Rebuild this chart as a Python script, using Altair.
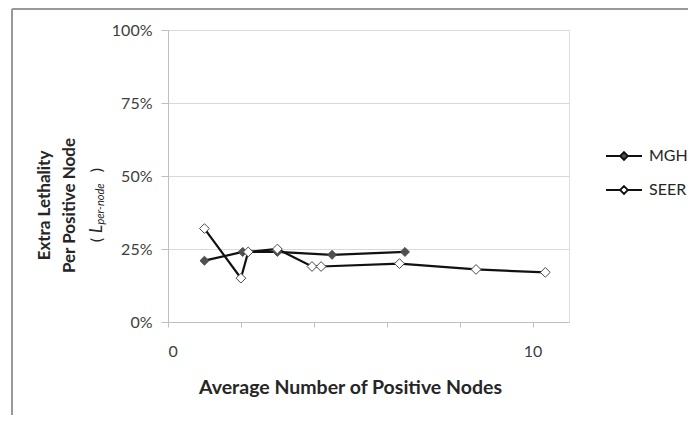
import altair as alt
import pandas as pd

# ---- data ----
mgh_x = [1.0, 2.05, 3.0, 4.5, 6.5]
mgh_y = [0.21, 0.24, 0.24, 0.23, 0.24]
seer_x = [1.0, 2.0, 2.2, 3.0, 3.95, 4.2, 6.35, 8.45, 10.35]
seer_y = [0.32, 0.15, 0.24, 0.25, 0.19, 0.19, 0.20, 0.18, 0.17]
series_names = ["MGH", "SEER"]
x_ticks = list(range(0, 12))
y_ticks = [0, 0.25, 0.5, 0.75, 1.0]

rows = []
for i, (x, y) in enumerate(zip(mgh_x, mgh_y)):
    rows.append({"series": "MGH", "x": x, "y": y, "i": i})
for i, (x, y) in enumerate(zip(seer_x, seer_y)):
    rows.append({"series": "SEER", "x": x, "y": y, "i": i})
df = pd.DataFrame(rows)
one = pd.DataFrame({"k": [0]})

FONT = "Lato"
W, H = 401, 292

xenc = alt.X("x:Q", scale=alt.Scale(domain=[0, 11], nice=False),
             axis=alt.Axis(values=x_ticks, grid=False,
                           labelExpr="datum.value % 5 === 0 ? datum.label : ''",
                           title="Average Number of Positive Nodes",
                           titleX=182, titleY=65,
                           titleAlign="center", titleBaseline="middle",
                           titleFontSize=19.5, titleFontWeight="bold",
                           titleColor="#262626",
                           tickSize=5, labelPadding=16, labelFontSize=16,
                           labelColor="#404040", domainColor="#bfbfbf",
                           tickColor="#bfbfbf", labelFont=FONT, titleFont=FONT))
yenc = alt.Y("y:Q", scale=alt.Scale(domain=[0, 1], nice=False),
             axis=alt.Axis(values=y_ticks, format=".0%", grid=True,
                           gridColor="#d9d9d9", gridWidth=1.2,
                           title=["Extra  Lethality", "Per  Positive  Node"],
                           titleX=-124, titleY=175, titleAngle=270,
                           titleAlign="center", titleBaseline="middle",
                           titleLineHeight=25,
                           titleFontSize=17, titleFontWeight="bold",
                           titleColor="#262626",
                           tickSize=7, labelPadding=9, labelFontSize=16,
                           labelColor="#404040", domainColor="#bfbfbf",
                           tickColor="#bfbfbf", labelFont=FONT, titleFont=FONT))

lines = alt.Chart(df).mark_line(color="#111111", strokeWidth=2.2).encode(
    x=xenc, y=yenc, detail="series:N", order=alt.Order("i:Q"))

legend_path = "M-1,0H-0.22M0.22,0H1M0,-0.22L0.22,0L0,0.22L-0.22,0Z"

points = alt.Chart(df).mark_point(shape="diamond", filled=True, stroke="#4a4a4a",
                                  strokeWidth=1, opacity=1).encode(
    x="x:Q", y="y:Q",
    size=alt.condition(alt.datum.series == "MGH", alt.value(80), alt.value(95)),
    fill=alt.Fill("series:N",
                  scale=alt.Scale(domain=series_names, range=["#505050", "#ffffff"]),
                  legend=alt.Legend(title=None, orient="none", legendX=437, legendY=107,
                                    symbolType=legend_path, symbolSize=1296,
                                    symbolStrokeColor="#111111", symbolStrokeWidth=1.8,
                                    labelFontSize=16, labelColor="#262626",
                                    labelFont=FONT, labelOffset=6, rowPadding=7,
                                    padding=0)))

frame_top = alt.Chart(one).mark_rule(color="#999999", strokeWidth=2).encode(
    x=alt.value(-156), x2=alt.value(600), y=alt.value(-21))
frame_left = alt.Chart(one).mark_rule(color="#999999", strokeWidth=2).encode(
    x=alt.value(-156), y=alt.value(-21), y2=alt.value(500))

def t(txt, x, y, size=16, style="normal"):
    return alt.Chart(one).mark_text(text=txt, angle=270, align="center", baseline="middle",
                                    fontSize=size, fontStyle=style, font=FONT,
                                    color="#262626").encode(x=alt.value(x), y=alt.value(y))

sub = (t("(", -71, 210) + t("L", -71, 199, 17, "italic")
       + t("per-node", -67, 174, 11, "italic") + t(")", -71, 140))

chart = alt.layer(frame_top, frame_left, lines, points, sub).properties(
    width=W, height=H,
    autosize=alt.AutoSizeParams(type="none"),
    padding={"left": 160, "top": 22, "right": 119, "bottom": 93},
).configure_view(stroke=None).configure(font=FONT, background="white")

chart.save("out.html", embed_options={"renderer": "svg", "actions": False})
